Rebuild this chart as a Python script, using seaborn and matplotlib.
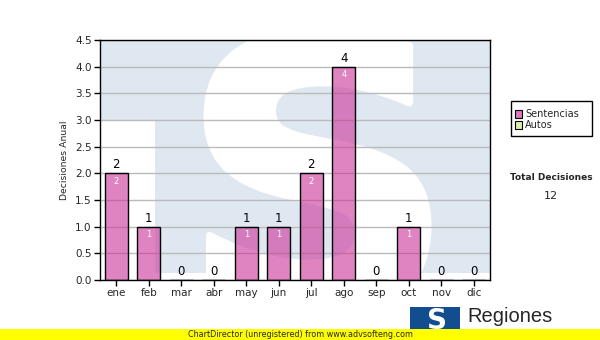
import matplotlib
matplotlib.use("Agg")
import matplotlib.pyplot as plt
import seaborn as sns
import pandas as pd
import numpy as np
from matplotlib.patches import Rectangle, PathPatch
from matplotlib.textpath import TextPath
from matplotlib.font_manager import FontProperties
from matplotlib.transforms import Affine2D
from matplotlib.colors import to_rgba

months = ["ene", "feb", "mar", "abr", "may", "jun", "jul", "ago", "sep", "oct", "nov", "dic"]
sentencias = [2, 1, 0, 0, 1, 1, 2, 4, 0, 1, 0, 0]
legend_labels = ["Sentencias", "Autos"]
y_ticks = [0.0, 0.5, 1.0, 1.5, 2.0, 2.5, 3.0, 3.5, 4.0, 4.5]
total_label = "Total Decisiones"
total_value = sum(sentencias)

sns.set_theme(style="white")
plt.rcParams["font.family"] = ["DejaVu Sans"]

W, H = 600, 340
fig = plt.figure(figsize=(6, 3.4), dpi=100)
fig.patch.set_facecolor("white")

def fx(px):
    return px / W

def fy(py):
    return 1 - py / H

ax = fig.add_axes([fx(100), fy(280), 390 / W, 240 / H])
ax.set_facecolor("white")

df = pd.DataFrame({"mes": months, "valor": sentencias})
sns.barplot(data=df, x="mes", y="valor", ax=ax, color="#CC3399",
            edgecolor="black", linewidth=1.0, width=0.7, saturation=1, zorder=3)
bar_face = to_rgba("#CC3399", 0.6)
for p in list(ax.patches):
    p.set_alpha(None)
    p.set_facecolor(bar_face)
    p.set_edgecolor((0, 0, 0, 1))
    p.set_zorder(3)

# watermark
wm = "#DFE8F1"
ax.add_patch(Rectangle((0, 7 / 240), 1, 1, transform=ax.transAxes, facecolor=wm, edgecolor="none", zorder=0))
ax.add_patch(Rectangle((0, 0), 55 / 390, 160 / 240, transform=ax.transAxes, facecolor="white", edgecolor="none", zorder=0.1))
tp = TextPath((0, 0), "S", prop=FontProperties(family="DejaVu Sans", weight="bold"), size=100)
ext = tp.get_extents()
x0, x1 = (207 - 100) / 390, (428 - 100) / 390
y1, y0 = (280 - 32) / 240, (280 - 314) / 240
tr = Affine2D().translate(-ext.x0, -ext.y0).scale((x1 - x0) / ext.width, (y1 - y0) / ext.height).translate(x0, y0)
sp = PathPatch(tr.transform_path(tp), facecolor="white", edgecolor="white", linewidth=5,
               joinstyle="round", transform=ax.transAxes, zorder=0.2)
ax.add_patch(sp)
sp.set_clip_path(Rectangle((0, 0), 1, 1, transform=ax.transAxes))

ax.set_ylim(0, 4.5)
ax.set_xlim(-0.5, 11.5)
ax.set_yticks(y_ticks)
ax.set_yticklabels([f"{t:.1f}" for t in y_ticks], fontsize=7.5)
ax.set_xticks(range(len(months)))
ax.set_xticklabels(months, fontsize=7.5)
ax.yaxis.grid(True, color="#BBBBBB", linewidth=1)
ax.set_axisbelow(False)
for gl in ax.get_ygridlines():
    gl.set_zorder(1)
ax.tick_params(axis="both", direction="out", length=4, width=1, color="black", pad=2, left=True, bottom=True)
for s in ax.spines.values():
    s.set_visible(True)
    s.set_color("black")
    s.set_linewidth(1)
    s.set_zorder(5)
ax.set_xlabel("")
ax.set_ylabel("Decisiones Anual", fontsize=6.7, labelpad=4)

for i, v in enumerate(sentencias):
    ax.text(i, v + 0.04, f"{v}", ha="center", va="bottom", fontsize=8.5, color="black", zorder=6)
    if v > 0:
        ax.text(i, v - 0.07, f"{v}", ha="center", va="top", fontsize=6, color="white", zorder=6)

# legend
fig.patches.append(Rectangle((fx(511), fy(136)), 81 / W, 35 / H, transform=fig.transFigure,
                             facecolor="white", edgecolor="black", linewidth=1, figure=fig))
leg_colors = ["#DD77BB", "#DDEEAA"]
for k, (lab, c) in enumerate(zip(legend_labels, leg_colors)):
    yc = 114 + 11 * k
    fig.patches.append(Rectangle((fx(515), fy(yc + 3.5)), 7 / W, 7 / H, transform=fig.transFigure,
                                 facecolor=c, edgecolor="black", linewidth=0.8, figure=fig))
    fig.text(fx(525), fy(yc), lab, fontsize=7, va="center", ha="left")

fig.text(fx(551), fy(178), total_label, fontsize=6.5, fontweight="bold", ha="center", va="center")
fig.text(fx(551), fy(196), f"{total_value}", fontsize=8, ha="center", va="center")

# logo
fig.patches.append(Rectangle((fx(410), fy(332)), 50 / W, 25 / H, transform=fig.transFigure,
                             facecolor="#124E8F", edgecolor="none", figure=fig))
fig.text(fx(437), fy(321), "S", fontsize=20, fontweight="bold", color="white", ha="center", va="center")
fig.text(fx(467), fy(316), "Regiones", fontsize=14.5, family="Liberation Sans", ha="left", va="center")

# footer
fig.patches.append(Rectangle((0, 0), 1, 11 / H, transform=fig.transFigure,
                             facecolor="#FFFF00", edgecolor="none", figure=fig, zorder=10))
fig.text(0.5, fy(334.5), "ChartDirector (unregistered) from www.advsofteng.com", fontsize=5.8,
         ha="center", va="center", zorder=11)

fig.savefig("out.png", dpi=100)
